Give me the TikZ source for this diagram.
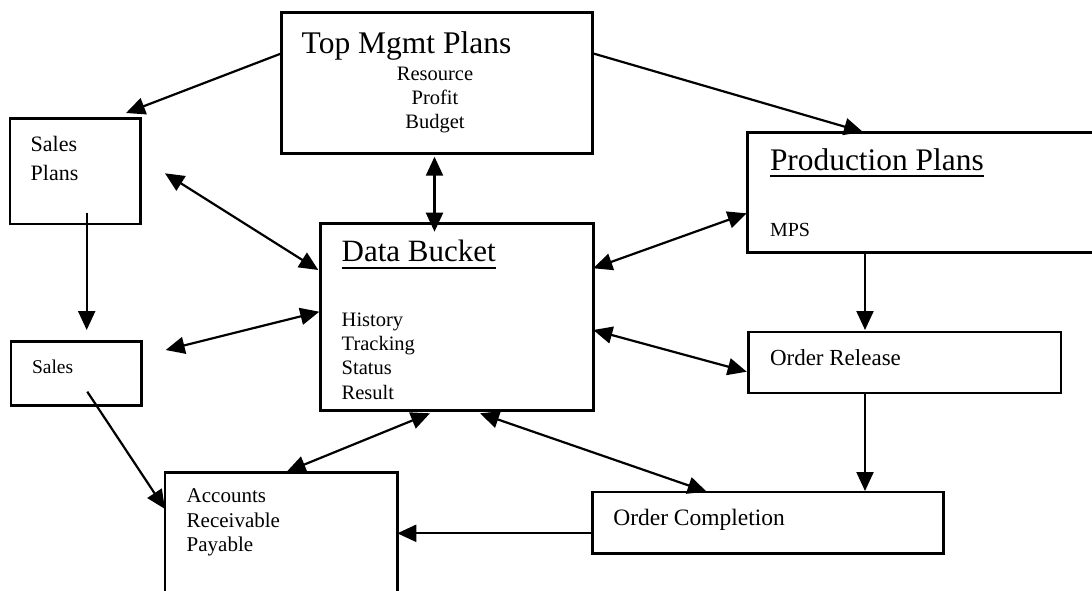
\documentclass[tikz,border=0pt]{standalone}
\usepackage{fontspec}
\setmainfont{Liberation Serif}
\usetikzlibrary{arrows.meta,calc}
\begin{document}
\begin{tikzpicture}[x=1pt,y=-1pt,
  box/.style={draw,line width=2.6pt,inner sep=0pt,outer sep=0pt,anchor=north west},
  lbl/.style={inner sep=0pt,outer sep=0pt,anchor=base west,align=left},
  tip/.tip={Triangle[length=19pt,width=17pt]},
  arr/.style={line width=2.2pt,-tip},
  darr/.style={line width=2.2pt,tip-tip},
  uline/.style={line width=1.8pt},
  ]
\useasboundingbox (0,0) rectangle (1092,590);
\clip (0,0) rectangle (1092,590);
\fill[white] (0,0) rectangle (1092,590);

% boxes
\node[box,minimum width=311pt,minimum height=140.6pt] (tm) at (281.7,12.7) {};
\node[box,minimum width=130.7pt,minimum height=105.7pt] (sp) at (10,118.3) {};
\node[box,minimum width=130.7pt,minimum height=64pt] (sales) at (11,341.7) {};
\node[box,minimum width=272.6pt,minimum height=187.4pt] (db) at (320.7,223.3) {};
\node[box,minimum width=352.3pt,minimum height=120.4pt] (pp) at (747.7,132.3) {};
\node[box,minimum width=312.7pt,minimum height=61pt] (or) at (748.3,332) {};
\node[box,minimum width=351pt,minimum height=61.3pt] (oc) at (592.3,492) {};
\node[box,minimum width=232.3pt,minimum height=127.3pt] (acc) at (165,472.7) {};

% texts (multi-line nodes: base = last line)
\node[lbl,font=\fontsize{31.5}{36}\selectfont] (tmt) at (301.7,53) {Top Mgmt Plans};
\node[inner sep=0pt,anchor=base,align=center,font=\fontsize{20.5}{23.7}\selectfont] (tml) at (435,128.2) {Resource\\Profit\\Budget};
\node[lbl,font=\fontsize{22}{28.3}\selectfont] (spt) at (30.7,180) {Sales\\Plans};
\node[lbl,font=\fontsize{19.5}{24}\selectfont] (st) at (32,373) {Sales};
\node[lbl,font=\fontsize{31}{36}\selectfont] (dbt) at (341.7,261.7) {Data Bucket};
\draw[uline] ($(dbt.base west)+(0,6.6)$) -- ($(dbt.base east)+(0,6.6)$);
\node[lbl,font=\fontsize{20.5}{24.4}\selectfont] (dbl) at (341.7,399.3) {History\\Tracking\\Status\\Result};
\node[lbl,font=\fontsize{31.4}{36}\selectfont] (ppt) at (770,170) {Production Plans};
\draw[uline] ($(ppt.base west)+(0,6.2)$) -- ($(ppt.base east)+(0,6.2)$);
\node[lbl,font=\fontsize{20}{24}\selectfont] (mps) at (770,236) {MPS};
\node[lbl,font=\fontsize{23}{28}\selectfont] (ort) at (770,365) {Order Release};
\node[lbl,font=\fontsize{23.5}{28}\selectfont] (oct) at (613.3,525) {Order Completion};
\node[lbl,font=\fontsize{21}{24.5}\selectfont] (acct) at (186.7,551.7) {Accounts\\Receivable\\Payable};

% connectors
\draw[arr] ($(tm.north west)+(0,40.6)$) -- ($(sp.north east)+(-14.7,-5.3)$);
\draw[darr] ($(tm.south west)+(152.8,3.4)$) -- ($(db.north west)+(113.8,8.4)$);
\draw[arr] ($(tm.north east)+(0,40.6)$) -- ($(pp.north west)+(115.3,-0.3)$);
\draw[arr] ($(sp.south west)+(76.7,-11.3)$) -- ($(sales.north west)+(75.7,-11.7)$);
\draw[darr] ($(sp.north east)+(24.3,55)$) -- ($(db.north west)+(-2.4,46.7)$);
\draw[darr] ($(sales.north east)+(24,8.3)$) -- ($(db.north west)+(-1.4,88.4)$);
\draw[darr] ($(db.north east)+(0,45)$) -- ($(pp.north west)+(-1,81)$);
\draw[darr] ($(db.north east)+(0,106.7)$) -- ($(or.north west)+(-1.6,39.7)$);
\draw[arr] ($(pp.south west)+(117.3,0)$) -- ($(or.north west)+(116.7,-2)$);
\draw[arr] ($(or.south west)+(116.7,0)$) -- ($(oc.north west)+(272.7,-1)$);
\draw[arr] ($(sales.south west)+(76.3,-14)$) -- ($(acc.north west)+(0,36.3)$);
\draw[darr] ($(db.south west)+(109.3,2.6)$) -- ($(acc.north west)+(121.7,-1)$);
\draw[darr] ($(db.south west)+(159.3,2.6)$) -- ($(oc.north west)+(114.4,-0.3)$);
\draw[arr] ($(oc.north west)+(0,41.3)$) -- ($(acc.north east)+(0,60.6)$);
\end{tikzpicture}
\end{document}
